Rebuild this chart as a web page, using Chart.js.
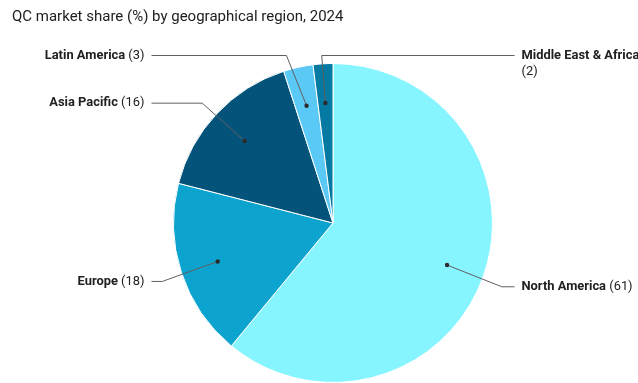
<!DOCTYPE html>
<html><head><meta charset="utf-8">
<script src="https://cdn.jsdelivr.net/npm/chart.js@4.4.1/dist/chart.umd.min.js"></script>
<style>html,body{margin:0;padding:0;background:#fff;overflow:hidden}</style>
</head><body>
<canvas id="c" width="638" height="383"></canvas>
<script>
const chartTitle = 'QC market share (%) by geographical region, 2024';
const regions = ['North America', 'Europe', 'Asia Pacific', 'Latin America', 'Middle East & Africa'];
const shares = [61, 18, 16, 3, 2];
const sliceColors = ['#87F5FF', '#0CA3CE', '#04537A', '#5BC9F5', '#0479A2'];

const FONT = 'Roboto, "Noto Sans", sans-serif';
const LABEL_SIZE = 12.9;

// Draws the title and the outside labels with leader lines for each slice.
const calloutPlugin = {
  id: 'callouts',
  afterDraw(chart) {
    const ctx = chart.ctx;
    const W = chart.width;
    const meta = chart.getDatasetMeta(0);
    ctx.save();
    ctx.font = '15px ' + FONT;
    ctx.fillStyle = '#212121';
    ctx.textBaseline = 'middle';
    ctx.textAlign = 'left';
    ctx.fillText(chartTitle, 12, 17);

    const bold = 'bold ' + LABEL_SIZE + 'px ' + FONT;
    const regular = LABEL_SIZE + 'px ' + FONT;
    const placed = { left: [], right: [] };
    meta.data.forEach((arc, i) => {
      const p = arc.getProps(['x', 'y', 'outerRadius', 'startAngle', 'endAngle'], true);
      const mid = (p.startAngle + p.endAngle) / 2;
      const cos = Math.cos(mid), sin = Math.sin(mid);
      const r = p.outerRadius;
      const dotX = p.x + cos * r * 0.76, dotY = p.y + sin * r * 0.76 + 1;
      const rawY = p.y + sin * r * 1.125 + 3;
      const minY = p.y - r - 8;
      const by = Math.max(rawY, minY);
      // when pushed down to the top limit, lean the leader further out
      const bx = p.x + cos * r * 1.125 + (cos < 0 ? -1 : 1) * (by - rawY) * (Math.abs(cos) > 0.1 ? 1.6 : 0);
      let side = cos >= 0 ? 'right' : 'left';
      if (placed[side].some(v => Math.abs(v - by) < 18)) side = side === 'right' ? 'left' : 'right';
      placed[side].push(by);
      const endX = side === 'right' ? p.x + r + 22 : p.x - r - 22;

      ctx.strokeStyle = '#5f5f5f';
      ctx.lineWidth = 1;
      ctx.beginPath();
      ctx.moveTo(dotX, dotY);
      ctx.lineTo(bx, by);
      ctx.lineTo(endX, by);
      ctx.stroke();
      ctx.fillStyle = '#2a2a2a';
      ctx.beginPath();
      ctx.arc(dotX, dotY, 2.2, 0, Math.PI * 2);
      ctx.fill();

      const name = regions[i];
      const val = ' (' + shares[i] + ')';
      ctx.fillStyle = '#212121';
      ctx.textBaseline = 'middle';
      ctx.font = bold;
      const nw = ctx.measureText(name).width;
      ctx.font = regular;
      const vw = ctx.measureText(val).width;
      if (side === 'right') {
        const tx = endX + 7;
        ctx.textAlign = 'left';
        ctx.font = bold;
        ctx.fillText(name, tx, by);
        ctx.font = regular;
        if (tx + nw + vw > W) {
          ctx.fillText(val.trim(), tx, by + 16);
        } else {
          ctx.fillText(val, tx + nw, by);
        }
      } else {
        const tx = endX - 7;
        ctx.textAlign = 'right';
        ctx.font = regular;
        ctx.fillText(val, tx, by);
        ctx.font = bold;
        ctx.fillText(name, tx - vw, by);
      }
    });
    ctx.restore();
  }
};

new Chart(document.getElementById('c'), {
  type: 'pie',
  data: {
    labels: regions,
    datasets: [{
      data: shares,
      backgroundColor: sliceColors,
      borderColor: '#ffffff',
      borderWidth: 1
    }]
  },
  options: {
    responsive: false,
    animation: false,
    layout: { padding: { top: 63, left: 28, right: 0, bottom: 0 } },
    plugins: { legend: { display: false }, tooltip: { enabled: false }, title: { display: false } }
  },
  plugins: [calloutPlugin]
});
</script>
</body></html>
